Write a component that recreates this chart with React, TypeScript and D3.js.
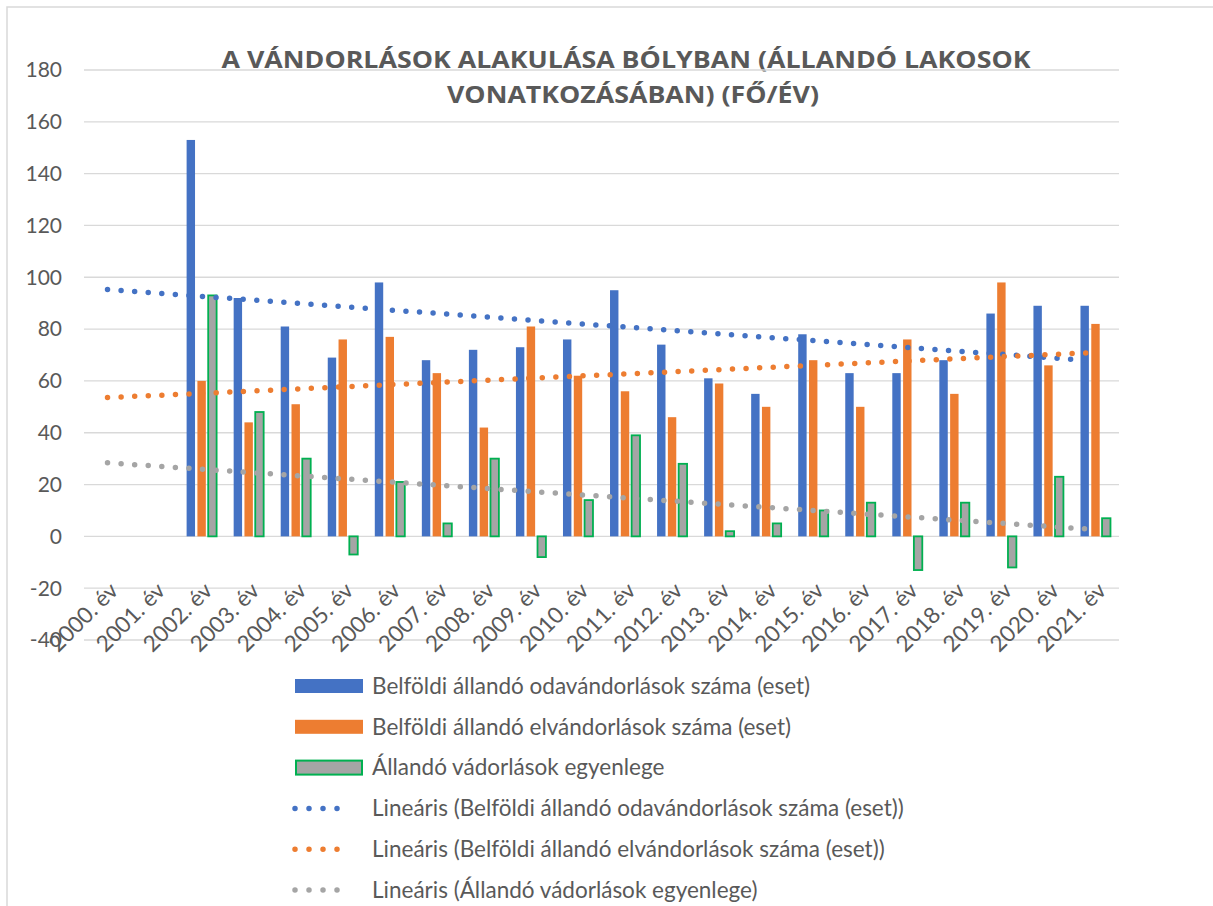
import React from 'react';
import * as d3 from 'd3';

// --- data ---
const categories = [
  '2000. év', '2001. év', '2002. év', '2003. év', '2004. év', '2005. év',
  '2006. év', '2007. év', '2008. év', '2009. év', '2010. év', '2011. év',
  '2012. év', '2013. év', '2014. év', '2015. év', '2016. év', '2017. év',
  '2018. év', '2019. év', '2020. év', '2021. év',
];
// 2000 and 2001: empty cells for the two counts, 0 for the balance
const odavandorlasok = [null, null, 153, 92, 81, 69, 98, 68, 72, 73, 76, 95, 74, 61, 55, 78, 63, 63, 68, 86, 89, 89];
const elvandorlasok = [null, null, 60, 44, 51, 76, 77, 63, 42, 81, 62, 56, 46, 59, 50, 68, 50, 76, 55, 98, 66, 82];
const egyenleg = [0, 0, 93, 48, 30, -7, 21, 5, 30, -8, 14, 39, 28, 2, 5, 10, 13, -13, 13, -12, 23, 7];

const yTicks = [-40, -20, 0, 20, 40, 60, 80, 100, 120, 140, 160, 180];

const titleLines = [
  'A VÁNDORLÁSOK ALAKULÁSA BÓLYBAN (ÁLLANDÓ LAKOSOK',
  'VONATKOZÁSÁBAN) (FŐ/ÉV)',
];

const seriesLabels = [
  'Belföldi állandó odavándorlások száma (eset)',
  'Belföldi állandó elvándorlások száma (eset)',
  'Állandó vádorlások egyenlege',
];
const trendLabels = [
  'Lineáris (Belföldi állandó odavándorlások száma (eset))',
  'Lineáris (Belföldi állandó elvándorlások száma (eset))',
  'Lineáris (Állandó vádorlások egyenlege)',
];

const BLUE = '#4472C4';
const ORANGE = '#ED7D31';
const GRAY = '#A5A5A5';
const GREEN = '#00B050';
const TEXT = '#595959';
const GRID = '#D9D9D9';
const FONT = 'Lato, "Open Sans", sans-serif';

// least squares trend like Excel: x = 1..n, empty cells skipped
function linearTrend(values: (number | null)[]) {
  const pts = values
    .map((v, i) => ({ x: i + 1, v }))
    .filter((p) => p.v !== null) as { x: number; v: number }[];
  const mx = d3.mean(pts, (p) => p.x) as number;
  const my = d3.mean(pts, (p) => p.v) as number;
  const slope = d3.sum(pts, (p) => (p.x - mx) * (p.v - my)) / d3.sum(pts, (p) => (p.x - mx) ** 2);
  return values.map((_, i) => my + slope * (i + 1 - mx));
}

const W = 1213;
const H = 906;
const plot = { left: 84, right: 1119, top: 70, bottom: 640 };

export default function App() {
  const x0 = d3.scaleBand<string>().domain(categories).range([plot.left, plot.right]);
  const groupW = 30;
  const keys = ['oda', 'el', 'egy'];
  const x1 = d3.scaleBand<string>().domain(keys).range([0, groupW]).paddingInner(0.22);
  const y = d3.scaleLinear().domain([-40, 180]).range([plot.bottom, plot.top]);
  const cx = (c: string) => (x0(c) as number) + x0.bandwidth() / 2;

  const series = [
    { key: 'oda', values: odavandorlasok, color: BLUE },
    { key: 'el', values: elvandorlasok, color: ORANGE },
    { key: 'egy', values: egyenleg, color: GRAY, stroke: GREEN },
  ];

  const line = d3.line<number>()
    .x((_, i) => cx(categories[i]))
    .y((d) => y(d));

  const trends = [
    { values: linearTrend(odavandorlasok), color: BLUE },
    { values: linearTrend(elvandorlasok), color: ORANGE },
    { values: linearTrend(egyenleg), color: GRAY },
  ];

  const legendTop = 686;
  const legendStep = 40.8;

  return (
    <svg width={W} height={H} style={{ position: 'absolute', left: 0, top: 0, background: '#fff' }} fontFamily={FONT}>
      <rect x={0} y={0} width={W} height={H} fill="#fff" />
      {/* chart border (cropped at right/bottom) */}
      <rect x={7} y={7} width={W + 50} height={H + 50} fill="none" stroke={GRID} strokeWidth={1.5} />

      {/* title */}
      <g fill={TEXT} fontFamily='"Open Sans", sans-serif' fontWeight="bold" fontSize={22.5} textAnchor="middle">
        <text x={626} y={68} textLength={809} lengthAdjust="spacingAndGlyphs">{titleLines[0]}</text>
        <text x={633} y={103} textLength={372} lengthAdjust="spacingAndGlyphs">{titleLines[1]}</text>
      </g>

      {/* gridlines */}
      <g>
        {yTicks.map((t) => (
          <line key={t} x1={plot.left} x2={plot.right} y1={y(t)} y2={y(t)} stroke={GRID} strokeWidth={1.3} />
        ))}
      </g>

      {/* y tick labels */}
      <g fill={TEXT} fontSize={21} textAnchor="end">
        {yTicks.map((t) => (
          <text key={t} x={62} y={y(t)} dy="0.35em">{t}</text>
        ))}
      </g>

      {/* bars */}
      {series.map((s) => (
        <g key={s.key}>
          {s.values.map((v, i) => {
            if (v === null || v === 0) return null;
            const c = categories[i];
            const bx = cx(c) - groupW / 2 + (x1(s.key) as number);
            const bw = x1.bandwidth();
            const top = y(Math.max(0, v));
            const h = Math.abs(y(v) - y(0));
            return (
              <rect key={c} x={bx} y={top} width={bw} height={h} fill={s.color}
                stroke={s.stroke || 'none'} strokeWidth={s.stroke ? 1.8 : 0} />
            );
          })}
        </g>
      ))}

      {/* x labels */}
      <g fill={TEXT} fontSize={22.5} textAnchor="end">
        {categories.map((c) => (
          <text key={c} transform={`translate(${cx(c) + 6},586) rotate(-45)`} dominantBaseline="central">{c}</text>
        ))}
      </g>

      {/* trendlines */}
      {trends.map((t, i) => (
        <path key={i} d={line(t.values) || ''} fill="none" stroke={t.color} strokeWidth={5.5}
          strokeLinecap="round" strokeDasharray="0 13.6" />
      ))}

      {/* legend */}
      <g fontSize={22.5} fill={TEXT}>
        {series.map((s, i) => {
          const ly = legendTop + i * legendStep;
          return (
            <g key={s.key}>
              <rect x={s.stroke ? 296 : 295} y={ly - 7} width={s.stroke ? 66 : 68} height={14} fill={s.color}
                stroke={s.stroke || 'none'} strokeWidth={s.stroke ? 2 : 0} />
              <text x={372} y={ly} dy="0.35em">{seriesLabels[i]}</text>
            </g>
          );
        })}
        {trends.map((t, i) => {
          const ly = legendTop + (i + 3) * legendStep;
          return (
            <g key={i}>
              <line x1={295} x2={351} y1={ly} y2={ly} stroke={t.color} strokeWidth={5.5}
                strokeLinecap="round" strokeDasharray="0 14" />
              <text x={372} y={ly} dy="0.35em">{trendLabels[i]}</text>
            </g>
          );
        })}
      </g>
    </svg>
  );
}
